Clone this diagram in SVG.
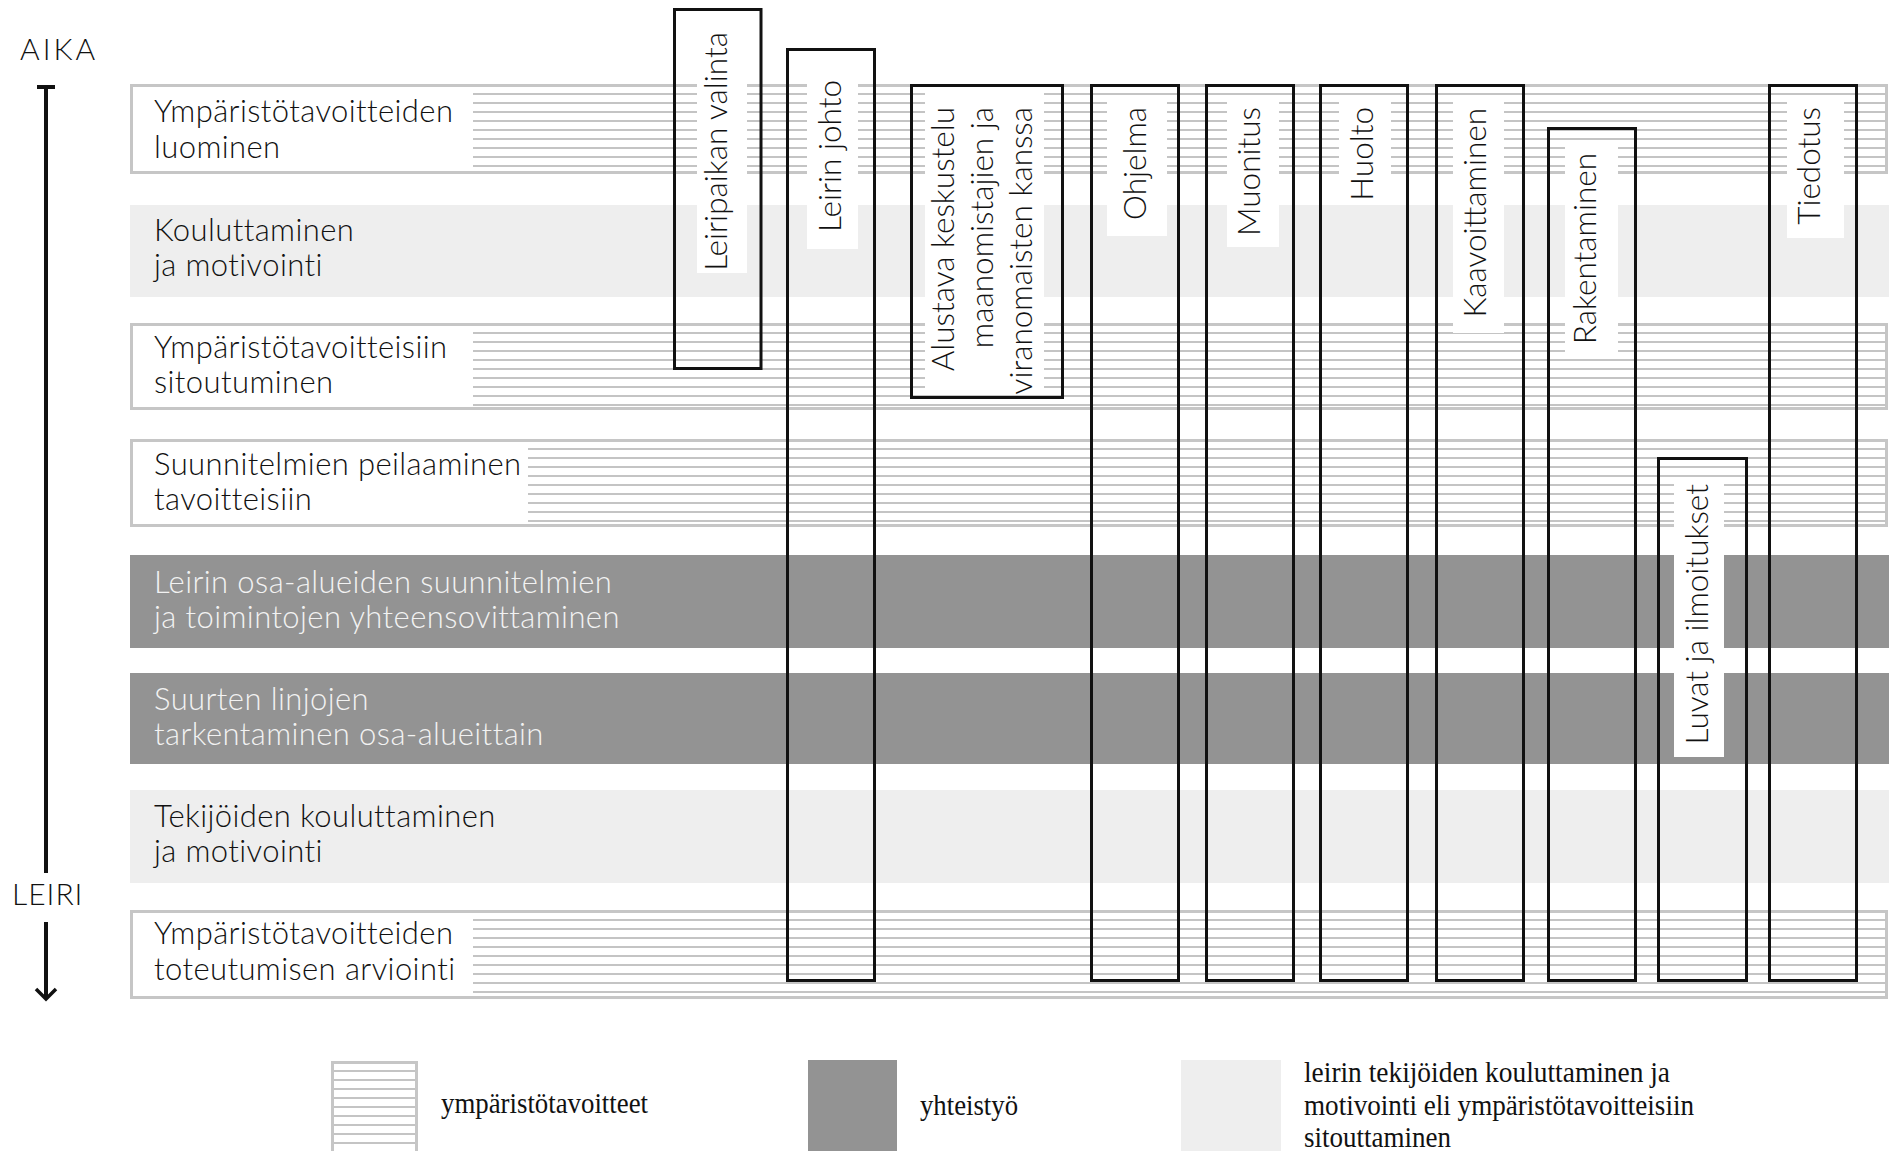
<svg xmlns="http://www.w3.org/2000/svg" width="1889" height="1151" viewBox="0 0 1889 1151">
<style>
.lbl{font-family:Lato,"Open Sans","DejaVu Sans",sans-serif;font-weight:300;font-size:31px;letter-spacing:0.4px;fill:#111}
.lblw{fill:#f2f2f2}
.col{font-family:Lato,"Open Sans","DejaVu Sans",sans-serif;font-weight:300;font-size:31.5px;fill:#111}
.ax{font-family:Lato,"Open Sans","DejaVu Sans",sans-serif;font-weight:300;font-size:30px;fill:#111}
.leg{font-family:"Liberation Serif","Times New Roman",serif;font-size:30px;fill:#111}
.rowbox{fill:#fff;stroke:#c6c6c6;stroke-width:3}
.light{fill:#eeeeee}
.dark{fill:#939393}
.colbox{fill:none;stroke:#111;stroke-width:3}
.bg{fill:#fff}
</style>
<defs>
<pattern id="stripes" width="20" height="9" patternUnits="userSpaceOnUse"><rect x="0" y="0" width="20" height="2" fill="#c4c4c4"/></pattern>
</defs>

<g id="row1" transform="translate(0,84)">
<rect class="rowbox" x="131.5" y="1.5" width="1755" height="87"/>
<rect x="473" y="9" width="1413" height="74" fill="url(#stripes)"/>
<text class="lbl" x="154" y="38">Ympäristötavoitteiden</text>
<text class="lbl" x="154" y="74">luominen</text>
</g>
<g id="row2">
<rect class="light" x="130" y="205" width="1759" height="92"/>
<text class="lbl" x="154" y="241">Kouluttaminen</text>
<text class="lbl" x="154" y="276">ja motivointi</text>
</g>
<g id="row3" transform="translate(0,323)">
<rect class="rowbox" x="131.5" y="1.5" width="1755" height="84"/>
<rect x="473" y="9" width="1413" height="74" fill="url(#stripes)"/>
<text class="lbl" x="154" y="35">Ympäristötavoitteisiin</text>
<text class="lbl" x="154" y="70">sitoutuminen</text>
</g>
<g id="row4" transform="translate(0,439)">
<rect class="rowbox" x="131.5" y="1.5" width="1755" height="85"/>
<rect x="528" y="9" width="1358" height="74" fill="url(#stripes)"/>
<text class="lbl" x="154" y="36">Suunnitelmien peilaaminen</text>
<text class="lbl" x="154" y="71">tavoitteisiin</text>
</g>
<g id="row5">
<rect class="dark" x="130" y="555" width="1759" height="93"/>
<text class="lbl lblw" x="154" y="593">Leirin osa-alueiden suunnitelmien</text>
<text class="lbl lblw" x="154" y="628">ja toimintojen yhteensovittaminen</text>
</g>
<g id="row6">
<rect class="dark" x="130" y="673" width="1759" height="91"/>
<text class="lbl lblw" x="154" y="710">Suurten linjojen</text>
<text class="lbl lblw" x="154" y="745">tarkentaminen osa-alueittain</text>
</g>
<g id="row7">
<rect class="light" x="130" y="790" width="1759" height="93"/>
<text class="lbl" x="154" y="827">Tekijöiden kouluttaminen</text>
<text class="lbl" x="154" y="862">ja motivointi</text>
</g>
<g id="row8" transform="translate(0,910)">
<rect class="rowbox" x="131.5" y="1.5" width="1755" height="86"/>
<rect x="473" y="9" width="1413" height="74" fill="url(#stripes)"/>
<text class="lbl" x="154" y="34">Ympäristötavoitteiden</text>
<text class="lbl" x="154" y="70">toteutumisen arviointi</text>
</g>

<g id="col-leiripaikka">
<rect class="bg" x="697" y="60" width="50" height="213"/>
<rect class="colbox" x="674.5" y="9.5" width="86.5" height="359"/>
<text class="col" text-anchor="end" transform="translate(727,32) rotate(-90)">Leiripaikan valinta</text>
</g>
<g id="col-johto">
<rect class="bg" x="807" y="60" width="51" height="189"/>
<rect class="colbox" x="787.5" y="49.5" width="87" height="931"/>
<text class="col" text-anchor="end" transform="translate(841,80) rotate(-90)">Leirin johto</text>
</g>
<g id="col-alustava">
<rect class="bg" x="925" y="88" width="119" height="300"/>
<rect class="colbox" x="911.5" y="85.5" width="151" height="312"/>
<text class="col" text-anchor="end" transform="translate(954,107) rotate(-90)">Alustava keskustelu</text>
<text class="col" text-anchor="end" transform="translate(993,107) rotate(-90)">maanomistajien ja</text>
<text class="col" text-anchor="end" transform="translate(1032,107) rotate(-90)">viranomaisten kanssa</text>
</g>
<g id="col-ohjelma">
<rect class="bg" x="1107" y="98" width="60" height="138"/>
<rect class="colbox" x="1091.5" y="85.5" width="87" height="895"/>
<text class="col" text-anchor="end" transform="translate(1146,107) rotate(-90)">Ohjelma</text>
</g>
<g id="col-muonitus">
<rect class="bg" x="1227" y="98" width="52" height="149"/>
<rect class="colbox" x="1206.5" y="85.5" width="87" height="895"/>
<text class="col" text-anchor="end" transform="translate(1260,107) rotate(-90)">Muonitus</text>
</g>
<g id="col-huolto">
<rect class="bg" x="1339" y="98" width="52" height="107"/>
<rect class="colbox" x="1320.5" y="85.5" width="87" height="895"/>
<text class="col" text-anchor="end" transform="translate(1373,107) rotate(-90)">Huolto</text>
</g>
<g id="col-kaavoittaminen">
<rect class="bg" x="1453" y="98" width="51" height="235"/>
<rect class="colbox" x="1436.5" y="85.5" width="87" height="895"/>
<text class="col" text-anchor="end" transform="translate(1486,108) rotate(-90)">Kaavoittaminen</text>
</g>
<g id="col-rakentaminen">
<rect class="bg" x="1565" y="147" width="53" height="205"/>
<rect class="colbox" x="1548.5" y="128.5" width="87" height="852"/>
<text class="col" text-anchor="end" transform="translate(1596,153) rotate(-90)">Rakentaminen</text>
</g>
<g id="col-luvat">
<rect class="bg" x="1674" y="482" width="50" height="275"/>
<rect class="colbox" x="1658.5" y="458.5" width="88" height="522"/>
<text class="col" text-anchor="end" transform="translate(1708,484) rotate(-90)">Luvat ja ilmoitukset</text>
</g>
<g id="col-tiedotus">
<rect class="bg" x="1787" y="98" width="57" height="140"/>
<rect class="colbox" x="1769.5" y="85.5" width="87" height="895"/>
<text class="col" text-anchor="end" transform="translate(1820,107) rotate(-90)">Tiedotus</text>
</g>

<g id="connectors">
<text class="ax" x="20" y="60" letter-spacing="3">AIKA</text>
<rect x="37" y="85" width="18" height="4" fill="#111"/>
<line x1="46" y1="86" x2="46" y2="873" stroke="#111" stroke-width="4"/>
<text class="ax" x="12" y="905" letter-spacing="1">LEIRI</text>
<line x1="46" y1="922" x2="46" y2="999" stroke="#111" stroke-width="4"/>
<polyline points="36,989 46,999 56,989" fill="none" stroke="#111" stroke-width="3.5"/>
</g>

<g id="legend-stripes" transform="translate(0,1061)">
<rect class="rowbox" x="332.5" y="1.5" width="84" height="100"/>
<rect x="334" y="9" width="81" height="90" fill="url(#stripes)"/>
<text class="leg" x="441" y="52" textLength="207" lengthAdjust="spacingAndGlyphs">ympäristötavoitteet</text>
</g>
<g id="legend-dark">
<rect class="dark" x="808" y="1060" width="89" height="91"/>
<text class="leg" x="920" y="1115" textLength="98" lengthAdjust="spacingAndGlyphs">yhteistyö</text>
</g>
<g id="legend-light">
<rect class="light" x="1181" y="1060" width="100" height="91"/>
<text class="leg" x="1304" y="1082" textLength="366" lengthAdjust="spacingAndGlyphs">leirin tekijöiden kouluttaminen ja</text>
<text class="leg" x="1304" y="1115" textLength="390" lengthAdjust="spacingAndGlyphs">motivointi eli ympäristötavoitteisiin</text>
<text class="leg" x="1304" y="1147" textLength="147" lengthAdjust="spacingAndGlyphs">sitouttaminen</text>
</g>
</svg>
